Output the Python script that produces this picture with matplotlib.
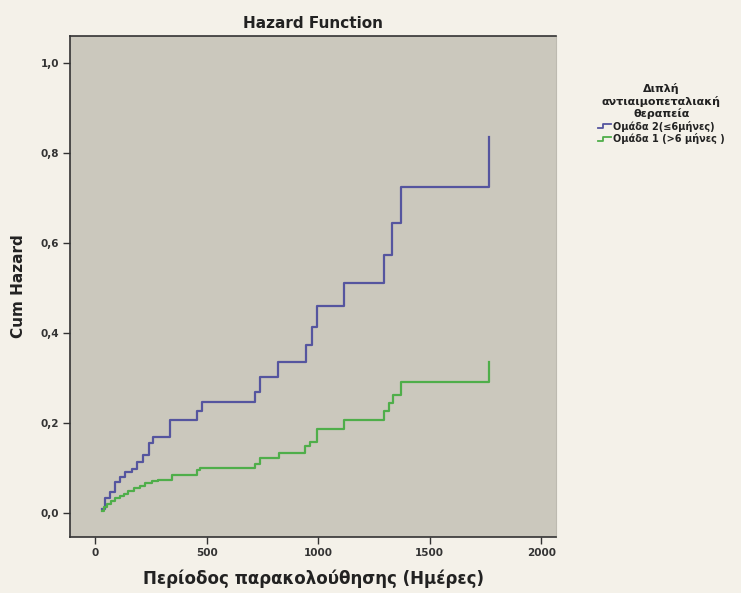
import matplotlib.pyplot as plt
from matplotlib.legend_handler import HandlerLine2D
from matplotlib.lines import Line2D

# data (days, cumulative hazard)
blue_t = [30, 45, 67, 90, 112, 135, 165, 187, 217, 240, 262, 337, 457, 479,
          716, 741, 820, 945, 970, 995, 1115, 1295, 1332, 1370, 1766]
blue_h = [0.010, 0.033, 0.047, 0.070, 0.081, 0.092, 0.099, 0.114, 0.129, 0.155,
          0.170, 0.207, 0.226, 0.247, 0.270, 0.303, 0.336, 0.373, 0.414, 0.459,
          0.512, 0.573, 0.645, 0.724, 0.836]
green_t = [30, 40, 55, 70, 90, 110, 130, 150, 175, 200, 225, 255, 280, 345,
           457, 470, 716, 741, 823, 943, 965, 995, 1115, 1295, 1317, 1335,
           1370, 1766]
green_h = [0.005, 0.013, 0.020, 0.027, 0.033, 0.038, 0.043, 0.050, 0.055,
           0.061, 0.066, 0.071, 0.074, 0.084, 0.096, 0.100, 0.110, 0.122,
           0.133, 0.148, 0.158, 0.186, 0.207, 0.226, 0.245, 0.262, 0.292, 0.336]

blue_lbl = 'Ομάδα 2(≤6μήνες)'
green_lbl = 'Ομάδα 1 (>6 μήνες )'
legend_title = 'Διπλή\nαντιαιμοπεταλιακή\nθεραπεία'
xticks = [0, 500, 1000, 1500, 2000]
yticks = [0.0, 0.2, 0.4, 0.6, 0.8, 1.0]

blue_c = '#55559f'
green_c = '#4fae4a'


class StepHandler(HandlerLine2D):
    def create_artists(self, legend, orig, xd, yd, w, h, fontsize, trans):
        xs = [-xd, -xd + w * 0.35, -xd + w * 0.35, -xd + w]
        ys = [h * 0.25 - yd, h * 0.25 - yd, h * 0.85 - yd, h * 0.85 - yd]
        ln = Line2D(xs, ys, color=orig.get_color(), lw=1.3)
        ln.set_transform(trans)
        return [ln]


fig = plt.figure(figsize=(7.41, 5.93), dpi=100)
fig.patch.set_facecolor('#f4f1e9')
ax = fig.add_axes([0.0945, 0.0945, 0.656, 0.845])
ax.set_facecolor('#cbc8bd')

l1, = ax.plot(blue_t, blue_h, drawstyle='steps-post', color=blue_c, lw=1.6,
              label=blue_lbl)
l2, = ax.plot(green_t, green_h, drawstyle='steps-post', color=green_c, lw=1.6,
              label=green_lbl)

ax.set_xlim(-112, 2066)
ax.set_ylim(-0.053, 1.06)
ax.set_xticks(xticks)
ax.set_xticklabels([str(v) for v in xticks], fontsize=7.5, fontweight='bold',
                   color='#333333')
ax.set_yticks(yticks)
ax.set_yticklabels([f'{v:.1f}'.replace('.', ',') for v in yticks],
                   fontsize=7.5, fontweight='bold', color='#333333')
ax.tick_params(direction='out', length=5, width=1, color='#333333', pad=3)

for s in ['left', 'bottom', 'top']:
    ax.spines[s].set_color('#333333')
    ax.spines[s].set_linewidth(1.2)
ax.spines['right'].set_color('#bdbab0')

ax.set_title('Hazard Function', fontsize=11, fontweight='bold',
             color='#222222', pad=6)
ax.set_xlabel('Περίοδος παρακολούθησης (Ημέρες)', fontsize=12,
              fontweight='bold', color='#222222', labelpad=8)
ax.set_ylabel('Cum Hazard', fontsize=11, fontweight='bold', color='#222222',
              labelpad=10)

leg = fig.legend(handles=[l1, l2], title=legend_title, loc='upper left',
                 bbox_to_anchor=(0.795, 0.875), frameon=False,
                 prop={'size': 7, 'weight': 'bold'}, handlelength=1.4,
                 handletextpad=0.2, labelspacing=0.15,
                 title_fontproperties={'size': 8, 'weight': 'bold'},
                 handler_map={Line2D: StepHandler()})
leg.get_title().set_multialignment('center')
leg.get_title().set_color('#222222')
for t in leg.get_texts():
    t.set_color('#222222')

fig.savefig('out.png', dpi=100, facecolor=fig.get_facecolor())
